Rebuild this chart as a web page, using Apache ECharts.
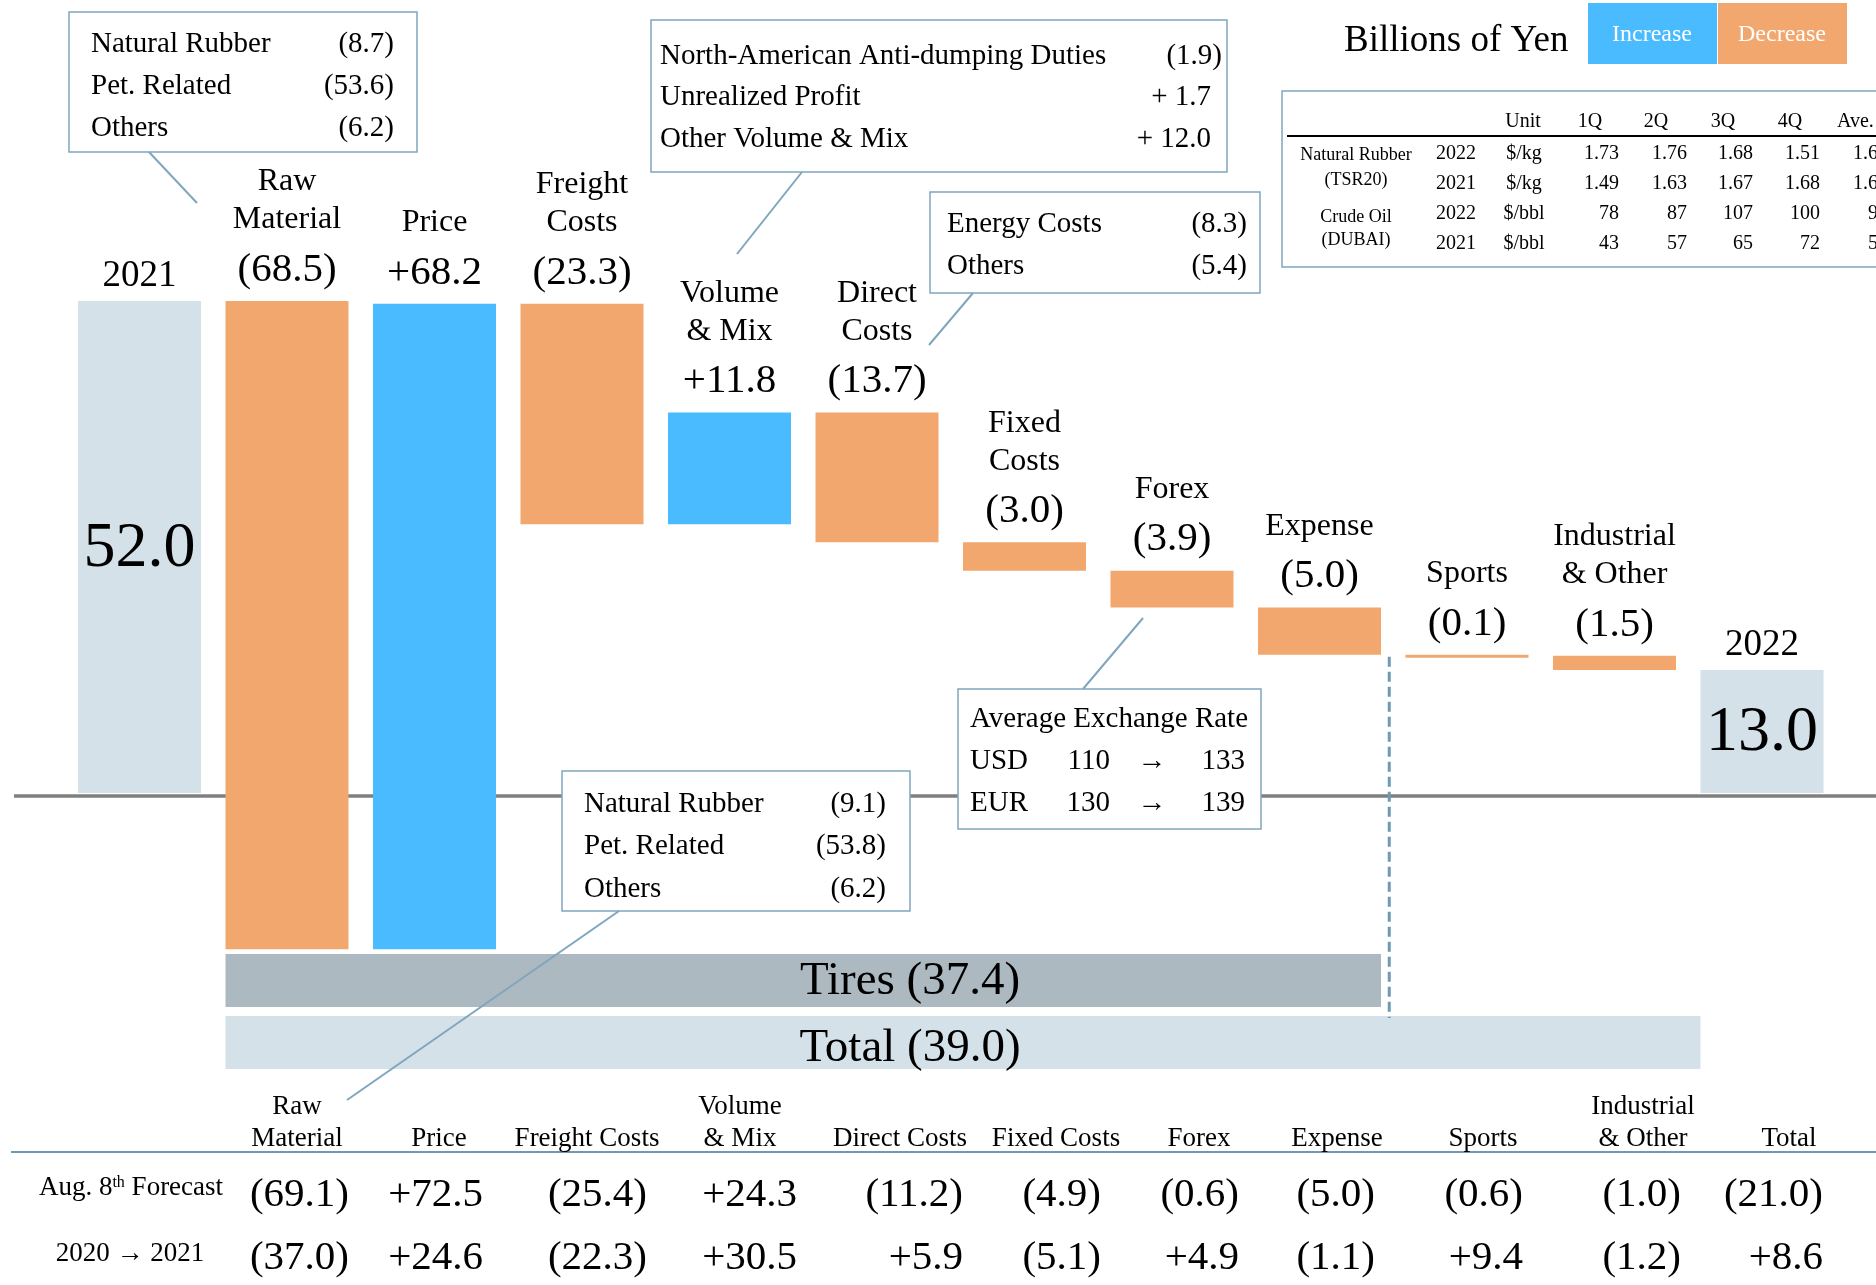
<!DOCTYPE html>
<html>
<head>
<meta charset="utf-8">
<title>Operating Income Variance 2021 - 2022</title>
<script src="https://cdn.jsdelivr.net/npm/echarts@6.0.0/dist/echarts.min.js"></script>
<style>
  html, body { margin: 0; padding: 0; background: #ffffff; }
  #chart { width: 1876px; height: 1285px; }
</style>
</head>
<body>
<div id="chart"></div>
<script>
// ---------- data ----------
const categories = ['2021', 'Raw Material', 'Price', 'Freight Costs', 'Volume & Mix', 'Direct Costs',
  'Fixed Costs', 'Forex', 'Expense', 'Sports', 'Industrial & Other', '2022'];
const barTitles = ['', 'Raw\nMaterial', 'Price', 'Freight\nCosts', 'Volume\n& Mix', 'Direct\nCosts',
  'Fixed\nCosts', 'Forex', 'Expense', 'Sports', 'Industrial\n& Other', ''];
const changes = [52.0, -68.5, 68.2, -23.3, 11.8, -13.7, -3.0, -3.9, -5.0, -0.1, -1.5, 13.0];
const isTotal = [true, false, false, false, false, false, false, false, false, false, false, true];

// horizontal sums below the bars: first bar, last bar
const bandNames = ['Tires', 'Total'];
const bandFrom = [1, 1];
const bandTo = [8, 10];

// call-out boxes
const rawNames = ['Natural Rubber', 'Pet. Related', 'Others'];
const rawValues = [-8.7, -53.6, -6.2];
const volumeNames = ['North-American Anti-dumping Duties', 'Unrealized Profit', 'Other Volume & Mix'];
const volumeValues = [-1.9, 1.7, 12.0];
const directNames = ['Energy Costs', 'Others'];
const directValues = [-8.3, -5.4];
const fxCurrencies = ['USD', 'EUR'];
const fxRate2021 = [110, 130];
const fxRate2022 = [133, 139];
const forecastRawValues = [-9.1, -53.8, -6.2];

// price table (top right)
const priceQuarters = ['1Q', '2Q', '3Q', '4Q'];
const rubber2022 = ['1.73', '1.76', '1.68', '1.51'];
const rubber2021 = ['1.49', '1.63', '1.67', '1.68'];
const oil2022 = ['78', '87', '107', '100'];
const oil2021 = ['43', '57', '65', '72'];
const priceAverages = ['1.67', '1.62', '93', '59'];

// comparison table (bottom)
const tableHeads = ['Raw\nMaterial', 'Price', 'Freight Costs', 'Volume\n& Mix', 'Direct Costs', 'Fixed Costs',
  'Forex', 'Expense', 'Sports', 'Industrial\n& Other', 'Total'];
const forecastValues = [-69.1, 72.5, -25.4, 24.3, -11.2, -4.9, -0.6, -5.0, -0.6, -1.0, -21.0];
const prevYearValues = [-37.0, 24.6, -22.3, 30.5, 5.9, -5.1, 4.9, -1.1, 9.4, -1.2, 8.6];

// ---------- style ----------
const FONT = '"Liberation Serif", "Times New Roman", serif';
const COLORS = ['#d4e1e8', '#4abbfe', '#f2a76e'];   // total, increase, decrease
const BAND_COLORS = ['#adb9c0', '#d4e1e8'];
const BAND_TOP = [954, 1016];
const BAND_TEXT_DY = [28, 33];
const BOX_LINE = '#7fa6be';
const BAR_RATIO = 0.834;

function fmt(v) {
  return v < 0 ? '(' + Math.abs(v).toFixed(1) + ')' : '+' + v.toFixed(1);
}
function fmtBox(v) {
  return v < 0 ? '(' + Math.abs(v).toFixed(1) + ')' : '+ ' + v.toFixed(1);
}
function txt(x, y, text, size, align, vAlign, extra) {
  const va = vAlign || 'middle';
  return Object.assign({
    type: 'text', x: x, y: y, z: 11,
    style: {
      text: text, font: size + 'px ' + FONT, fill: '#000',
      align: align, verticalAlign: va, textAlign: align, textVerticalAlign: va
    }
  }, extra || {});
}

// waterfall levels
const barData = [];
let level = 0;
changes.forEach(function (v, i) {
  if (isTotal[i]) {
    barData.push([i, 0, v, 0]);
    level = v;
  } else {
    const next = level + v;
    barData.push([i, Math.min(level, next), Math.max(level, next), v > 0 ? 1 : 2]);
    level = next;
  }
});
const bandData = bandNames.map(function (n, k) {
  let s = 0;
  for (let i = bandFrom[k]; i <= bandTo[k]; i++) s += changes[i];
  return [bandFrom[k], bandTo[k], s, k];
});

const chart = echarts.init(document.getElementById('chart'));

chart.setOption({
  animation: false,
  backgroundColor: '#ffffff',
  grid: { left: 65.75, top: 225.25, width: 1770, height: 851.625 },
  xAxis: { type: 'category', data: categories, show: false },
  yAxis: { type: 'value', min: -30, max: 60, show: false },
  series: [
    {
      type: 'custom',
      name: 'waterfall',
      clip: false,
      encode: { x: 0, y: [1, 2] },
      data: barData,
      renderItem: function (params, api) {
        const i = api.value(0);
        const kind = api.value(3);
        const top = api.coord([i, api.value(2)]);
        const bot = api.coord([i, api.value(1)]);
        const w = api.size([1, 0])[0] * BAR_RATIO;
        const h = Math.max(bot[1] - top[1], 3);
        const cx = top[0];
        const kids = [{
          type: 'rect',
          shape: { x: cx - w / 2, y: top[1], width: w, height: h },
          style: { fill: COLORS[kind] }
        }];
        if (kind === 0) {
          kids.push(txt(cx, top[1] - 25, categories[i], 37, 'center'));
          kids.push(txt(cx, (top[1] + bot[1]) / 2 + 2, changes[i].toFixed(1), 64, 'center'));
        } else {
          kids.push(txt(cx, top[1] - 31, fmt(changes[i]), 41, 'center'));
          const title = txt(cx, top[1] - 62, barTitles[i], 32, 'center', 'bottom');
          title.style.lineHeight = 38;
          kids.push(title);
        }
        return { type: 'group', children: kids };
      }
    },
    {
      type: 'custom',
      name: 'segments',
      clip: false,
      encode: { x: [0, 1], y: 2 },
      data: bandData,
      renderItem: function (params, api) {
        const k = api.value(3);
        const w = api.size([1, 0])[0] * BAR_RATIO;
        const x1 = api.coord([api.value(0), 0])[0] - w / 2;
        // the total strip reaches the 2022 bar, the tires strip ends at its last bar
        const x2 = k === 1 ? api.coord([api.value(1) + 1, 0])[0] - w / 2
                           : api.coord([api.value(1), 0])[0] + w / 2;
        const y = BAND_TOP[k];
        return {
          type: 'group',
          children: [
            { type: 'rect', shape: { x: x1, y: y, width: x2 - x1, height: 53 }, style: { fill: BAND_COLORS[k] } },
            txt(910, y + BAND_TEXT_DY[k], bandNames[k] + ' ' + fmt(api.value(2)), 47, 'center')
          ]
        };
      }
    }
  ]
});

// ---------- annotations ----------
const y0 = chart.convertToPixel({ yAxisIndex: 0 }, 0);
const xSplit = (chart.convertToPixel({ xAxisIndex: 0 }, 8) + chart.convertToPixel({ xAxisIndex: 0 }, 9)) / 2 - 4;
const ySplit = chart.convertToPixel({ yAxisIndex: 0 }, barData[8][1]);

const g = [];
function box(x1, y1, x2, y2) {
  g.push({ type: 'rect', z: 10, shape: { x: x1, y: y1, width: x2 - x1, height: y2 - y1 },
    style: { fill: '#ffffff', stroke: BOX_LINE, lineWidth: 1.5 } });
}
function link(x1, y1, x2, y2) {
  g.push({ type: 'line', z: 10, shape: { x1: x1, y1: y1, x2: x2, y2: y2 },
    style: { stroke: BOX_LINE, lineWidth: 2 } });
}

// zero line
g.push({ type: 'line', z: 0, shape: { x1: 14, y1: y0 + 3, x2: 1876, y2: y0 + 3 },
  style: { stroke: '#7f7f7f', lineWidth: 3.5 } });
// tires / other split
g.push({ type: 'line', z: 10, shape: { x1: xSplit, y1: ySplit + 2, x2: xSplit, y2: 1018 },
  style: { stroke: '#6d9ab4', lineWidth: 3, lineDash: [10, 5] } });

// raw material breakdown
box(69, 12, 417, 152);
link(149, 152, 197, 203);
rawNames.forEach(function (n, i) {
  g.push(txt(91, 44 + i * 42, n, 29, 'left'));
  g.push(txt(394, 44 + i * 42, fmtBox(rawValues[i]), 29, 'right'));
});

// volume & mix breakdown
box(651, 20, 1227, 172);
link(802, 172, 737, 254);
volumeNames.forEach(function (n, i) {
  g.push(txt(660, 56 + i * 41.5, n, 29, 'left'));
  g.push(txt(volumeValues[i] < 0 ? 1222 : 1211, 56 + i * 41.5, fmtBox(volumeValues[i]), 29, 'right'));
});

// direct costs breakdown
box(930, 192, 1260, 293);
link(973, 293, 929, 345);
directNames.forEach(function (n, i) {
  g.push(txt(947, 224 + i * 42, n, 29, 'left'));
  g.push(txt(1247, 224 + i * 42, fmtBox(directValues[i]), 29, 'right'));
});

// forecast raw material breakdown
box(562, 771, 910, 911);
link(619, 911, 347, 1100);
rawNames.forEach(function (n, i) {
  g.push(txt(584, 804 + i * 42.5, n, 29, 'left'));
  g.push(txt(886, 804 + i * 42.5, fmtBox(forecastRawValues[i]), 29, 'right'));
});

// exchange rates
box(958, 689, 1261, 829);
link(1083, 689, 1143, 618);
g.push(txt(970, 719, 'Average Exchange Rate', 29, 'left'));
fxCurrencies.forEach(function (c, i) {
  const y = 761 + i * 42;
  g.push(txt(970, y, c, 29, 'left'));
  g.push(txt(1110, y, String(fxRate2021[i]), 29, 'right'));
  g.push(txt(1152, y, '\u2192', 29, 'center'));
  g.push(txt(1245, y, String(fxRate2022[i]), 29, 'right'));
});

// unit and legend
g.push(txt(1344, 41, 'Billions of Yen', 37, 'left'));
g.push({ type: 'rect', z: 10, shape: { x: 1588, y: 3, width: 129, height: 61 }, style: { fill: COLORS[1] } });
g.push({ type: 'rect', z: 10, shape: { x: 1718, y: 3, width: 129, height: 61 }, style: { fill: COLORS[2] } });
['Increase', 'Decrease'].forEach(function (s, i) {
  const t = txt(1652 + i * 130, 35, s, 24, 'center');
  t.style.fill = '#ffffff';
  g.push(t);
});

// price table
box(1282, 91, 1900, 267);
g.push({ type: 'line', z: 11, shape: { x1: 1287, y1: 136, x2: 1876, y2: 136 }, style: { stroke: '#000', lineWidth: 2 } });
g.push(txt(1523, 122, 'Unit', 20, 'center'));
priceQuarters.forEach(function (q, i) {
  g.push(txt([1590, 1656, 1723, 1790][i], 122, q, 20, 'center'));
});
g.push(txt(1837, 122, 'Ave.', 20, 'left'));
g.push(txt(1356, 155, 'Natural Rubber', 18, 'center'));
g.push(txt(1356, 180, '(TSR20)', 18, 'center'));
g.push(txt(1356, 217, 'Crude Oil', 18, 'center'));
g.push(txt(1356, 240, '(DUBAI)', 18, 'center'));
[['2022', '$/kg', rubber2022], ['2021', '$/kg', rubber2021], ['2022', '$/bbl', oil2022], ['2021', '$/bbl', oil2021]]
  .forEach(function (row, r) {
    const y = 154 + r * 30;
    g.push(txt(1456, y, row[0], 20, 'center'));
    g.push(txt(1524, y, row[1], 20, 'center'));
    row[2].forEach(function (v, i) {
      g.push(txt([1619, 1687, 1753, 1820][i], y, v, 20, 'right'));
    });
    g.push(txt(1888, y, priceAverages[r], 20, 'right'));
  });

// comparison table
const headX = [297, 439, 587, 740, 900, 1056, 1199, 1337, 1483, 1643, 1789];
const valueRight = [349, 483, 647, 797, 963, 1101, 1239, 1375, 1523, 1681, 1823];
g.push({ type: 'line', z: 11, shape: { x1: 11, y1: 1152, x2: 1876, y2: 1152 }, style: { stroke: '#6e9ab3', lineWidth: 2 } });
tableHeads.forEach(function (h, i) {
  const t = txt(headX[i], 1155, h, 27, 'center', 'bottom');
  t.style.lineHeight = 32;
  g.push(t);
  g.push(txt(valueRight[i], 1195, fmt(forecastValues[i]), 41, 'right'));
  g.push(txt(valueRight[i], 1258, fmt(prevYearValues[i]), 41, 'right'));
});
g.push({
  type: 'text', x: 131, y: 1188, z: 11,
  style: {
    text: '{n|Aug. 8}{s|th}{n| Forecast}',
    align: 'center', verticalAlign: 'middle', textAlign: 'center', textVerticalAlign: 'middle',
    rich: {
      n: { font: '27px ' + FONT, fill: '#000' },
      s: { font: '16px ' + FONT, fill: '#000', verticalAlign: 'top' }
    }
  }
});
g.push(txt(130, 1254, '2020 \u2192 2021', 27, 'center'));

chart.setOption({ graphic: g });
</script>
</body>
</html>
